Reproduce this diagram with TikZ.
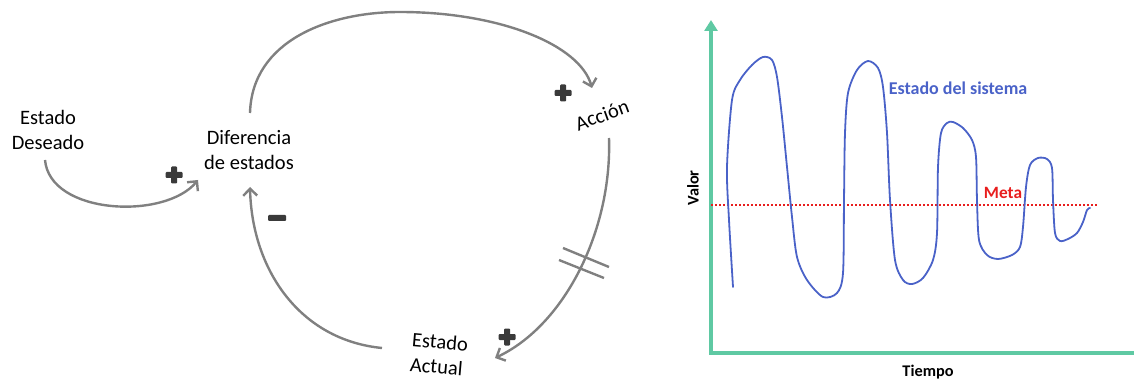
\documentclass[tikz,border=0pt]{standalone}
\usepackage{fontspec}
\setmainfont{Carlito}
\usetikzlibrary{arrows.meta}
\definecolor{loopgray}{RGB}{128,128,128}
\definecolor{signgray}{RGB}{58,58,58}
\definecolor{axisgreen}{RGB}{95,201,163}
\definecolor{curveblue}{RGB}{74,98,200}
\definecolor{metared}{RGB}{232,30,30}
\begin{document}
\begin{tikzpicture}[x=1pt,y=-1pt,
  lbl/.style={font=\fontsize{20.5}{25}\selectfont, align=center, inner sep=0pt},
  link/.style={draw=loopgray, line width=2.4pt, -{Straight Barb[length=7pt,width=14pt,line width=2.4pt]}},
  bar/.style={draw=loopgray, line width=2.4pt},
  chartlbl/.style={font=\fontsize{16.3}{18}\selectfont\bfseries, inner sep=0pt},
  axis/.style={draw=axisgreen, line width=4pt}
]
\useasboundingbox (0,0) rectangle (1134,379);
\newcommand{\plusmark}[2]{%
  \fill[signgray, rounded corners=1pt] ({#1-8.5},{#2-3}) rectangle ({#1+8.5},{#2+3});
  \fill[signgray, rounded corners=1pt] ({#1-3},{#2-8.5}) rectangle ({#1+3},{#2+8.5});}

% ---- causal loop ----
\node[lbl] (deseado) at (48,130) {Estado\\Deseado};
\node[lbl] (dif) at (249,150) {Diferencia\\de estados};
\node[lbl, rotate=20] (accion) at (602,115) {Acción};
\node[lbl, rotate=-5, align=left] (actual) at (439,354) {Estado\\Actual};

\coordinate (d1) at (45,160);
\coordinate (d2) at (198,180);
\coordinate (t1) at (250,113);
\coordinate (t2) at (592,88);
\coordinate (a1) at (609,138);
\coordinate (a2) at (495,358);
\coordinate (b1) at (382,348);
\coordinate (b2) at (250,187);

\draw[link] (d1) .. controls (50,215) and (165,220) .. (d2);
\draw[link] (t1) .. controls (252,40) and (330,12) .. (400,12) .. controls (500,12) and (580,45) .. (t2);
\draw[link] (a1) .. controls (612,230) and (565,325) .. (a2);
\draw[link] (b1) .. controls (300,340) and (252,270) .. (b2);

\coordinate (bar1a) at (563,248); \coordinate (bar1b) at (609,267);
\coordinate (bar2a) at (559,260); \coordinate (bar2b) at (604,278);
\draw[bar] (bar1a) -- (bar1b);
\draw[bar] (bar2a) -- (bar2b);

\plusmark{174}{175}
\plusmark{563}{93}
\plusmark{507}{337}
\fill[signgray, rounded corners=1pt] (268,215) rectangle (286,221);

% ---- chart ----
\coordinate (origin) at (711,353);
\coordinate (ytop) at (711,20);
\coordinate (xend) at (1134,353);
\draw[axis, -{Triangle[length=11pt,width=13pt]}] (origin) -- (ytop);
\draw[axis] ([xshift=-2pt]origin) -- (xend);

\node[chartlbl, rotate=90] (valor) at (693,188) {Valor};
\node[chartlbl] (tiempo) at (928,372) {Tiempo};

\coordinate (m1) at (711,205);
\coordinate (m2) at (1097,205);
\draw[metared, line width=2pt, dotted] (m1) -- (m2);
\node[chartlbl, text=metared, font=\fontsize{17.3}{19}\selectfont\bfseries] (meta) at (1003,193) {Meta};
\node[chartlbl, text=curveblue, font=\fontsize{18}{20}\selectfont\bfseries] (estado) at (958,88) {Estado del sistema};

\draw[curveblue, line width=1.8pt, line join=round, line cap=round] plot[smooth, tension=0.5] coordinates {
(733,287) (729,220) (727,167) (732,100) (740,80) (752,65) (763,57) (772,60) (777,77) (782,117)
(787,167) (792,217) (797,257) (807,280) (823,297) (837,293) (843,273) (844,200) (845,133)
(848,93) (857,70) (868,61) (878,68) (883,87) (887,133) (890,200) (895,260) (903,280) (912,284)
(923,278) (933,260) (937,233) (938,167) (941,133) (947,123) (953,122) (963,128) (972,140)
(976,157) (977,200) (979,240) (987,255) (998,259) (1012,255) (1020,247) (1023,227) (1026,187)
(1030,165) (1038,158) (1047,159) (1052,168) (1053,200) (1055,233) (1060,241) (1068,239)
(1077,233) (1083,222) (1087,210) (1090,208)};
\end{tikzpicture}
\end{document}
